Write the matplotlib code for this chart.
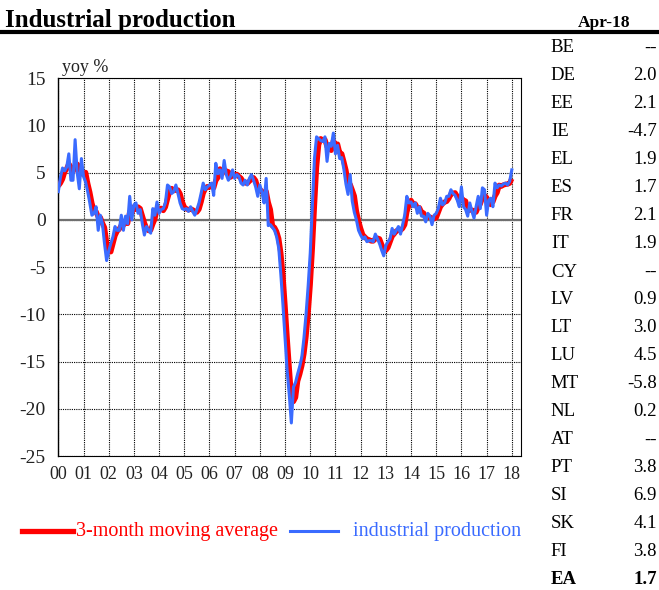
import numpy as np
import matplotlib
matplotlib.use('Agg')
import matplotlib.pyplot as plt
from matplotlib.lines import Line2D

plt.rcParams['font.family'] = ['Liberation Serif', 'DejaVu Serif']
plt.rcParams['axes.unicode_minus'] = False

# monthly yoy %, Jan 2000 - Jan 2018
ip = [
    3.0, 4.5, 5.5, 5.2, 5.6, 7.0, 4.2, 4.2, 8.5, 5.0, 3.3, 6.5,          # 2000
    4.6, 4.0, 3.0, 1.8, 0.5, 0.7, 1.4, -1.1, 0.5, -0.4, -2.5, -4.3,      # 2001
    -3.3, -2.5, -1.8, -0.7, -1.1, -1.1, 0.5, -1.1, 0.4, -0.4, 2.5, 0.0,  # 2002
    1.6, 1.8, 0.7, 1.1, -0.4, -1.6, -0.7, -1.1, -1.4, 1.2, 0.5, 1.9,     # 2003
    0.7, 1.1, 1.2, 1.8, 3.7, 3.5, 2.8, 3.0, 3.7, 2.8, 1.8, 1.2,          # 2004
    1.1, 1.2, 0.9, 1.4, 0.9, 0.5, 1.1, 1.8, 2.8, 3.9, 3.2, 3.5,          # 2005
    3.7, 3.9, 2.6, 6.0, 4.9, 5.3, 4.4, 6.3, 4.8, 4.2, 4.6, 5.3,          # 2006
    4.4, 4.8, 4.6, 3.9, 3.7, 4.2, 3.7, 4.4, 4.8, 4.2, 3.5, 2.5,          # 2007
    3.7, 2.9, 1.8, 4.4, -0.6, -0.5, -0.8, -1.1, -1.8, -3.0, -5.8, -9.0,  # 2008
    -12.5, -16.0, -18.5, -21.5, -17.7, -17.2, -16.3, -15.5, -14.5, -12.5, -10.0, -7.0,  # 2009
    -3.5, 1.5, 6.5, 8.8, 8.6, 8.4, 8.3, 8.8, 6.2, 8.1, 7.8, 9.2,         # 2010
    7.0, 7.9, 6.5, 6.6, 5.4, 3.8, 2.7, 4.8, 2.0, 0.8, 0.0, -1.1,         # 2011
    -1.6, -2.0, -1.8, -2.3, -2.2, -2.2, -2.3, -1.5, -2.0, -2.5, -3.2, -3.8,  # 2012
    -2.7, -2.3, -2.0, -0.9, -1.5, -1.1, -0.7, -1.5, -0.5, 0.5, 2.5, 1.8,     # 2013
    1.9, 1.4, 1.8, 0.7, 1.4, 0.4, 0.4, -0.2, 0.7, 0.4, -0.5, 0.5,        # 2014
    0.7, 1.2, 2.3, 1.6, 1.8, 2.5, 2.5, 3.2, 2.8, 2.6, 2.1, 1.4,          # 2015
    3.5, 1.4, 1.1, 0.4, 1.8, 0.9, 0.2, 1.4, 2.5, 1.2, 3.4, 3.2,          # 2016
    0.5, 2.1, 2.3, 1.4, 3.9, 3.4, 3.7, 3.6, 3.8, 3.9, 3.7, 4.1,          # 2017
    5.3,                                                                # 2018
]

ma3 = [
    3.6, 3.9, 4.33, 5.07, 5.43, 5.93, 5.6, 5.13, 5.63, 5.9, 5.6, 4.93,
    4.8, 5.03, 3.87, 2.93, 1.77, 1.0, 0.87, 0.33, 0.27, -0.33, -0.8, -2.4,
    -3.37, -3.37, -2.53, -1.67, -1.2, -0.97, -0.57, -0.57, -0.07, -0.37, 0.83, 0.7,
    1.37, 1.13, 1.37, 1.2, 0.47, -0.3, -0.9, -1.13, -1.07, -0.43, 0.1, 1.2,
    1.03, 1.23, 1.0, 1.37, 2.23, 3.0, 3.33, 3.1, 3.17, 3.17, 2.77, 1.93,
    1.37, 1.17, 1.07, 1.17, 1.07, 0.93, 0.83, 1.13, 1.9, 2.83, 3.3, 3.53,
    3.47, 3.7, 3.4, 4.17, 4.5, 5.4, 4.87, 5.33, 5.17, 5.1, 4.53, 4.7,
    4.77, 4.83, 4.6, 4.43, 4.07, 3.93, 3.87, 4.1, 4.3, 4.47, 4.17, 3.4,
    3.23, 3.03, 2.8, 3.03, 1.87, 1.1, -0.63, -0.8, -1.23, -1.97, -3.53, -5.93,
    -9.1, -12.5, -15.67, -18.67, -19.23, -18.8, -17.07, -16.33, -15.43, -14.17, -12.33, -9.83,
    -6.83, -3.0, 1.5, 5.6, 7.97, 8.6, 8.43, 8.5, 7.77, 7.7, 7.37, 8.37,
    8.0, 8.03, 7.13, 7.0, 6.17, 5.27, 3.97, 3.77, 3.17, 2.53, 0.93, -0.1,
    -0.9, -1.57, -1.8, -2.03, -2.1, -2.23, -2.23, -2.0, -1.93, -2.0, -2.57, -3.17,
    -3.23, -2.93, -2.33, -1.73, -1.47, -1.17, -1.1, -1.1, -0.9, -0.5, 0.83, 1.6,
    2.07, 1.7, 1.7, 1.3, 1.3, 0.83, 0.73, 0.2, 0.3, 0.3, 0.2, 0.13,
    0.23, 0.8, 1.4, 1.7, 1.9, 1.97, 2.27, 2.73, 2.83, 2.87, 2.5, 2.03,
    2.33, 2.1, 2.0, 0.97, 1.1, 1.03, 0.97, 0.83, 1.37, 1.7, 2.37, 2.6,
    2.37, 1.93, 1.63, 1.93, 2.53, 2.9, 3.67, 3.57, 3.7, 3.77, 3.8, 3.9,
    4.37,
]

years = list(range(2000, 2019))
year_labels = ['%02d' % (y % 100) for y in years]

countries = ['BE', 'DE', 'EE', 'IE', 'EL', 'ES', 'FR', 'IT', 'CY', 'LV',
             'LT', 'LU', 'MT', 'NL', 'AT', 'PT', 'SI', 'SK', 'FI', 'EA']
latest = ['--', '2.0', '2.1', '-4.7', '1.9', '1.7', '2.1', '1.9', '--', '0.9',
          '3.0', '4.5', '-5.8', '0.2', '--', '3.8', '6.9', '4.1', '3.8', '1.7']

red = '#FF0000'
blue = '#3A6BFF'

x = 2000 + np.arange(len(ip)) / 12.0

fig = plt.figure(figsize=(6.59, 5.90), dpi=100)
ax = fig.add_axes([0.0885, 0.2271, 0.790 - 0.0885, 0.8673 - 0.2271])

ax.plot(x, ma3, color=red, lw=3.8, solid_capstyle='butt', zorder=3)
ax.plot(x, ip, color=blue, lw=2.2, zorder=4)

ax.set_xlim(2000, 2018.35)
ax.set_ylim(-25, 15)
ax.set_yticks(range(-25, 16, 5))
ax.set_xticks(years)
ax.set_xticklabels(year_labels)
ax.tick_params(axis='both', length=0, colors='#222222')
ax.tick_params(axis='y', pad=9, labelsize=14)
ax.tick_params(axis='x', pad=7, labelsize=13)
ax.grid(True, color='black', linestyle=(0, (1, 1)), lw=0.8)
ax.axhline(0, color='#707070', lw=1.6, zorder=2)
ax.set_axisbelow(True)
for s in ['top', 'right', 'bottom']:
    ax.spines[s].set_linestyle((0, (1, 1)))
    ax.spines[s].set_linewidth(0.8)
ax.spines['left'].set_linewidth(1.0)

fig.text(0.094, 0.878, 'yoy %', fontsize=13, color='#222222', va='baseline')

# title and header rule
fig.text(0.008, 0.955, 'Industrial production', fontsize=18, fontweight='bold', va='baseline')
fig.text(0.956, 0.955, 'Apr-18', fontsize=12.5, fontweight='bold', va='baseline', ha='right')
fig.add_artist(Line2D([0, 1], [0.945, 0.945], transform=fig.transFigure, color='black', lw=3))

# legend
fig.add_artist(Line2D([0.034, 0.111], [0.0995, 0.0995], transform=fig.transFigure, color=red, lw=3.8))
fig.text(0.116, 0.0995, '3-month moving average', color=red, fontsize=14.5, va='center')
fig.add_artist(Line2D([0.440, 0.513], [0.0995, 0.0995], transform=fig.transFigure, color=blue, lw=2.2))
fig.text(0.535, 0.0995, 'industrial production', color=blue, fontsize=14.5, va='center')

# country table
for i, (c, v) in enumerate(zip(countries, latest)):
    yy = 1 - (48 + i * 28.0) / 590
    w = 'bold' if c == 'EA' else 'normal'
    fig.text(0.836, yy, c, fontsize=13.5, va='center', fontweight=w)
    fig.text(0.997, yy, v, fontsize=13.5, va='center', ha='right', fontweight=w)

fig.savefig('out.png', dpi=100)
